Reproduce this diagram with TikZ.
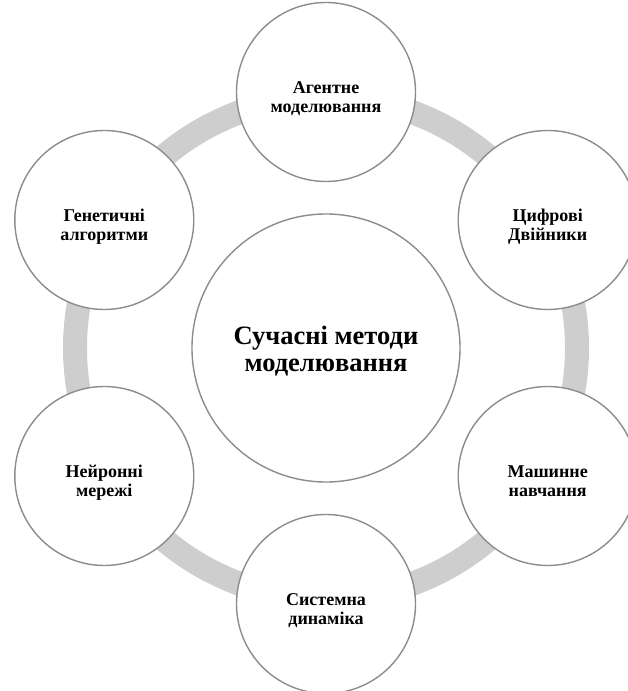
\documentclass[tikz,border=0pt]{standalone}
\usepackage{fontspec}
\setmainfont{Liberation Serif}
\usetikzlibrary{calc}
\definecolor{ringgrey}{RGB}{206,206,206}
\definecolor{rimgrey}{RGB}{140,140,140}

\begin{document}
\begin{tikzpicture}[
    x=1pt, y=1pt,
    hub/.style={circle, draw=rimgrey, line width=1.4pt, fill=white,
                minimum size=268pt, inner sep=0pt, align=center,
                text height=47pt, text depth=0pt,
                font=\bfseries\fontsize{26.5}{27}\selectfont},
    spoke/.style={circle, draw=rimgrey, line width=1.4pt, fill=white,
                  minimum size=179pt, inner sep=0pt, align=center,
                  text height=42pt, text depth=0pt,
                  font=\bfseries\fontsize{18}{19}\selectfont},
    ring/.style={draw=ringgrey, line width=24pt}
]
\useasboundingbox (0,0) rectangle (627,691);
\coordinate (centre) at (326,343);

% background ring
\draw[ring] (centre) circle (251pt);

\node[hub] (hub) at (centre) {Сучасні методи\\моделювання};

\node[spoke] (agent)   at ($(centre)+(90:256pt)$)  {Агентне\\моделювання};
\node[spoke] (twins)   at ($(centre)+(30:256pt)$)  {Цифрові\\Двійники};
\node[spoke] (ml)      at ($(centre)+(-30:256pt)$) {Машинне\\навчання};
\node[spoke] (sysdyn)  at ($(centre)+(-90:256pt)$) {Системна\\динаміка};
\node[spoke] (neural)  at ($(centre)+(210:256pt)$) {Нейронні\\мережі};
\node[spoke] (genetic) at ($(centre)+(150:256pt)$) {Генетичні\\алгоритми};
\end{tikzpicture}
\end{document}
